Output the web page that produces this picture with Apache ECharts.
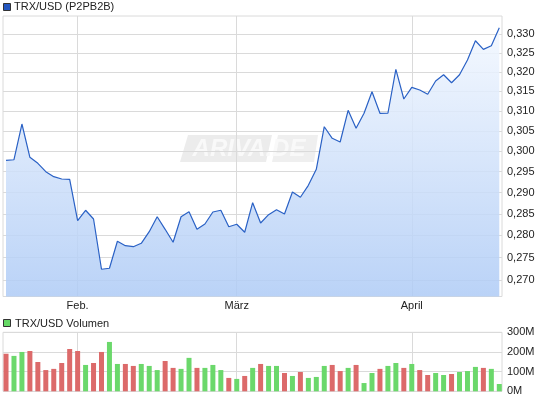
<!DOCTYPE html>
<html>
<head>
<meta charset="utf-8">
<script src="https://cdn.jsdelivr.net/npm/echarts@6/dist/echarts.min.js"></script>
<style>
  html, body { margin: 0; padding: 0; background: #fff; }
  #chart { width: 545px; height: 401px; }
</style>
</head>
<body>
<div id="chart"></div>
<script>
// TRX/USD daily close, trading days late Jan - early April
const prices = [
  0.29773, 0.29787, 0.30669, 0.29846, 0.29700, 0.29497, 0.29377, 0.29322, 0.29315, 0.28340,
  0.28582, 0.28379, 0.27237, 0.27260, 0.27867, 0.27767, 0.27744, 0.27821, 0.28086, 0.28432,
  0.28141, 0.27844, 0.28432, 0.28549, 0.28141, 0.28264, 0.28542, 0.28582, 0.28201, 0.28257,
  0.28073, 0.28759, 0.28287, 0.28479, 0.28596, 0.28495, 0.29012, 0.28887, 0.29171, 0.29555,
  0.30601, 0.30313, 0.30221, 0.31014, 0.30561, 0.30938, 0.31489, 0.30938, 0.30940, 0.32070,
  0.31302, 0.31602, 0.31533, 0.31422, 0.31765, 0.31929, 0.31721, 0.31929, 0.32315, 0.32828,
  0.32598, 0.32694, 0.33178
];
// volume in millions
const volumes = [
  191, 180, 200, 205, 149, 108, 114, 144, 215, 205,
  134, 144, 200, 251, 139, 139, 129, 139, 129, 108,
  154, 119, 114, 170, 119, 119, 134, 108, 68, 63,
  78, 119, 139, 129, 129, 93, 78, 98, 68, 73,
  129, 134, 103, 119, 134, 42, 93, 114, 129, 144,
  119, 139, 108, 83, 93, 83, 88, 98, 103, 124,
  119, 114, 37
];
// 1 = green bar (up day), 0 = red bar
const volumeUp = [
  0, 1, 1, 0, 0, 0, 0, 0, 0, 0,
  1, 0, 0, 1, 1, 0, 0, 1, 1, 1,
  0, 0, 1, 1, 0, 1, 1, 1, 0, 1,
  0, 1, 0, 1, 1, 0, 1, 0, 1, 1,
  1, 0, 0, 1, 0, 1, 1, 0, 1, 1,
  0, 1, 0, 0, 1, 1, 0, 1, 1, 1,
  0, 1, 1
];
const monthTicks = [9, 29, 51];
const monthLabels = ['Feb.', 'März', 'April'];
const priceTicks = [0.270, 0.275, 0.280, 0.285, 0.290, 0.295, 0.300, 0.305, 0.310, 0.315, 0.320, 0.325, 0.330];
const volumeTicks = [0, 100, 200, 300];

const gridColor = '#dadada';
const textColor = '#222';
const font = 'Liberation Sans, Arial, sans-serif';

const chart = echarts.init(document.getElementById('chart'), null, { renderer: 'canvas' });

const xCommon = {
  type: 'value',
  min: -0.38,
  max: 62.34,
  axisLine: { show: false },
  axisTick: { show: false, customValues: monthTicks },
  splitLine: { show: true, lineStyle: { color: gridColor, width: 1 } }
};

chart.setOption({
  animation: false,
  textStyle: { fontFamily: font },
  grid: [
    { left: 3, right: 43, top: 16, bottom: 104.5, show: true, borderColor: gridColor, borderWidth: 1 },
    { left: 3, right: 43, top: 332.3, bottom: 9.7, show: true, borderColor: gridColor, borderWidth: 1 }
  ],
  xAxis: [
    Object.assign({}, xCommon, {
      gridIndex: 0,
      axisLabel: {
        customValues: monthTicks,
        color: textColor, fontSize: 11, fontFamily: font, margin: 4,
        formatter: v => monthLabels[monthTicks.indexOf(v)]
      }
    }),
    Object.assign({}, xCommon, { gridIndex: 1, axisLabel: { show: false } })
  ],
  yAxis: [
    {
      gridIndex: 0,
      type: 'log',
      position: 'right',
      min: 0.26638,
      max: 0.33498,
      axisLine: { show: false },
      axisTick: { show: false, customValues: priceTicks },
      axisLabel: {
        customValues: priceTicks,
        color: textColor, fontSize: 11, fontFamily: font, margin: 5,
        formatter: v => v.toFixed(3).replace('.', ',')
      },
      splitLine: { show: true, lineStyle: { color: gridColor, width: 1 } }
    },
    {
      gridIndex: 1,
      type: 'value',
      position: 'right',
      min: 0, max: 300,
      axisLine: { show: false },
      axisTick: { show: false, customValues: volumeTicks },
      axisLabel: {
        customValues: volumeTicks,
        color: textColor, fontSize: 11, fontFamily: font, margin: 5,
        formatter: v => v + 'M'
      },
      splitLine: { show: true, lineStyle: { color: gridColor, width: 1 } }
    }
  ],
  graphic: [
    { type: 'rect', left: 3, top: 3, shape: { width: 7, height: 7 }, style: { fill: '#2457c0', stroke: '#333', lineWidth: 1 } },
    { type: 'text', left: 14, top: 1, style: { text: 'TRX/USD (P2PB2B)', fill: textColor, font: '11px ' + font } },
    { type: 'rect', left: 3, top: 319, shape: { width: 7, height: 7 }, style: { fill: '#66d966', stroke: '#333', lineWidth: 1 } },
    { type: 'text', left: 15, top: 318, style: { text: 'TRX/USD Volumen', fill: textColor, font: '11px ' + font } },
    {
      type: 'group', left: 180, top: 135, z: 1,
      children: [
        { type: 'polygon', shape: { points: [[8, 0], [92, 0], [86, 27], [0, 27]] }, style: { fill: '#ececec' } },
        { type: 'polygon', shape: { points: [[98, 0], [138, 0], [134, 27], [92, 27]] }, style: { fill: '#efefef' } },
        { type: 'text', x: 69, y: 14, style: { text: 'ARIVA.DE', fill: '#f9f9f9', font: 'italic bold 24px ' + font, align: 'center', verticalAlign: 'middle' } }
      ]
    }
  ],
  series: [
    {
      name: 'TRX/USD (P2PB2B)',
      type: 'line',
      xAxisIndex: 0, yAxisIndex: 0,
      data: prices.map((v, i) => [i, v]),
      showSymbol: false,
      z: 3,
      lineStyle: { color: '#2a61c5', width: 1.2 },
      areaStyle: {
        opacity: 0.85,
        color: new echarts.graphic.LinearGradient(0, 0, 0, 1, [
          { offset: 0, color: '#f3f8ff' },
          { offset: 1, color: '#aecbf6' }
        ])
      }
    },
    {
      name: 'TRX/USD Volumen',
      type: 'bar',
      xAxisIndex: 1, yAxisIndex: 1,
      barWidth: 5,
      data: volumes.map((v, i) => ({
        value: [i, v],
        itemStyle: { color: volumeUp[i] ? '#6bd86b' : '#dc6a6a' }
      }))
    }
  ]
});
</script>
</body>
</html>
